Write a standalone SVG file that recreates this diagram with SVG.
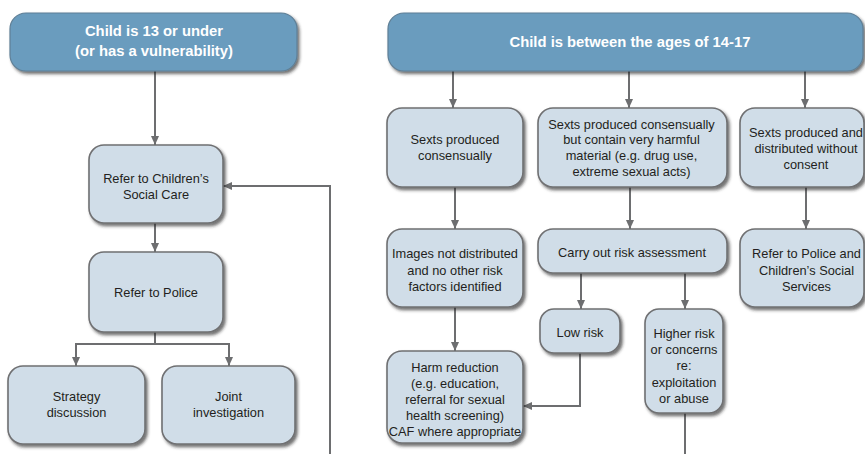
<svg xmlns="http://www.w3.org/2000/svg" width="865" height="454" viewBox="0 0 865 454">
<style>
.hdr{fill:#6a9cbe;stroke:#5f7f96;stroke-width:1.2;filter:url(#sh)}
.box{fill:#d0dde8;stroke:#6f7072;stroke-width:1.6;filter:url(#sh)}
.ht{font-family:"Liberation Sans",Arial,sans-serif;font-weight:bold;font-size:14.8px;fill:#ffffff;text-anchor:middle}
.bt{font-family:"Liberation Sans",Arial,sans-serif;font-size:12.8px;fill:#231f20;text-anchor:middle}
.con path{fill:none;stroke:#6d6e70;stroke-width:2}
.arr{marker-end:url(#ah)}
</style>
<defs>
<filter id="sh" x="-10%" y="-10%" width="125%" height="130%">
<feDropShadow dx="2" dy="2.5" stdDeviation="1.5" flood-color="#222222" flood-opacity="0.65"/>
</filter>
<marker id="ah" viewBox="0 0 9 8" refX="9" refY="4" markerWidth="9" markerHeight="8" markerUnits="userSpaceOnUse" orient="auto">
<path d="M0,0 L9,4 L0,8 z" fill="#6d6e70"/>
</marker>
</defs>
<rect width="865" height="454" fill="#ffffff"/>

<g class="con">
<path class="arr" d="M155,71 V145"/>
<path class="arr" d="M155,223 V252"/>
<path class="arr" d="M155,332 V344 H76 V366"/>
<path class="arr" d="M155,344 H229 V366"/>
<path class="arr" d="M330,454 V186 H223"/>
<path class="arr" d="M453,71 V108"/>
<path class="arr" d="M629,71 V108"/>
<path class="arr" d="M805,71 V108"/>
<path class="arr" d="M455,187 V229"/>
<path class="arr" d="M630,187 V229"/>
<path class="arr" d="M806,187 V229"/>
<path class="arr" d="M581,273 V309"/>
<path class="arr" d="M685,273 V309"/>
<path class="arr" d="M455,307 V351"/>
<path class="arr" d="M580,353 V406 H523"/>
<path d="M685,413 V454"/>
</g>

<g id="hdr-left">
<rect class="hdr" x="10" y="13" width="287" height="58" rx="16"/>
<text class="ht" x="154" y="36">Child is 13 or under</text>
<text class="ht" x="154" y="56">(or has a vulnerability)</text>
</g>
<g id="csc">
<rect class="box" x="89" y="145" width="134" height="78" rx="15"/>
<text class="bt" x="156" y="183">Refer to Children’s</text>
<text class="bt" x="156" y="199">Social Care</text>
</g>
<g id="police">
<rect class="box" x="89" y="252" width="134" height="80" rx="15"/>
<text class="bt" x="156" y="297">Refer to Police</text>
</g>
<g id="strategy">
<rect class="box" x="8" y="366" width="137" height="78" rx="15"/>
<text class="bt" x="76.5" y="401">Strategy</text>
<text class="bt" x="76.5" y="417">discussion</text>
</g>
<g id="joint">
<rect class="box" x="162" y="366" width="133" height="78" rx="15"/>
<text class="bt" x="228.5" y="401">Joint</text>
<text class="bt" x="228.5" y="417">investigation</text>
</g>

<g id="hdr-right">
<rect class="hdr" x="388" y="13" width="475" height="58" rx="16"/>
<text class="ht" x="630" y="47">Child is between the ages of 14-17</text>
</g>
<g id="consensual">
<rect class="box" x="387" y="108" width="136" height="79" rx="15"/>
<text class="bt" x="455" y="143.5">Sexts produced</text>
<text class="bt" x="455" y="159.5">consensually</text>
</g>
<g id="harmful">
<rect class="box" x="538" y="108" width="189" height="79" rx="15"/>
<text class="bt" x="631.5" y="128.5">Sexts produced consensually</text>
<text class="bt" x="631.5" y="144">but contain very harmful</text>
<text class="bt" x="631.5" y="159.5">material (e.g. drug use,</text>
<text class="bt" x="631.5" y="175.5">extreme sexual acts)</text>
</g>
<g id="nonconsent">
<rect class="box" x="740" y="108" width="124" height="79" rx="15"/>
<text class="bt" x="806" y="136.5">Sexts produced and</text>
<text class="bt" x="806" y="152.5">distributed without</text>
<text class="bt" x="806" y="168.5">consent</text>
</g>
<g id="notdistributed">
<rect class="box" x="387" y="229" width="136" height="78" rx="15"/>
<text class="bt" x="455" y="257.5">Images not distributed</text>
<text class="bt" x="455" y="274.5">and no other risk</text>
<text class="bt" x="455" y="291">factors identified</text>
</g>
<g id="riskassessment">
<rect class="box" x="538" y="229" width="189" height="44" rx="15"/>
<text class="bt" x="632" y="256.5">Carry out risk assessment</text>
</g>
<g id="referboth">
<rect class="box" x="740" y="229" width="124" height="78" rx="15"/>
<text class="bt" x="806.5" y="257.5">Refer to Police and</text>
<text class="bt" x="806.5" y="274.5">Children’s Social</text>
<text class="bt" x="806.5" y="291">Services</text>
</g>
<g id="lowrisk">
<rect class="box" x="540" y="309" width="80" height="44" rx="14"/>
<text class="bt" x="580" y="336.5">Low risk</text>
</g>
<g id="higherrisk">
<rect class="box" x="645" y="309" width="78" height="104" rx="14"/>
<text class="bt" x="684" y="337.5">Higher risk</text>
<text class="bt" x="684" y="353.5">or concerns</text>
<text class="bt" x="684" y="370">re:</text>
<text class="bt" x="684" y="386.5">exploitation</text>
<text class="bt" x="684" y="403">or abuse</text>
</g>
<g id="harmreduction">
<rect class="box" x="387" y="351" width="136" height="92" rx="15"/>
<text class="bt" x="455" y="371.5">Harm reduction</text>
<text class="bt" x="455" y="387.5">(e.g. education,</text>
<text class="bt" x="455" y="403.5">referral for sexual</text>
<text class="bt" x="455" y="419.5">health screening)</text>
<text class="bt" x="455" y="435.5">CAF where appropriate</text>
</g>
</svg>
